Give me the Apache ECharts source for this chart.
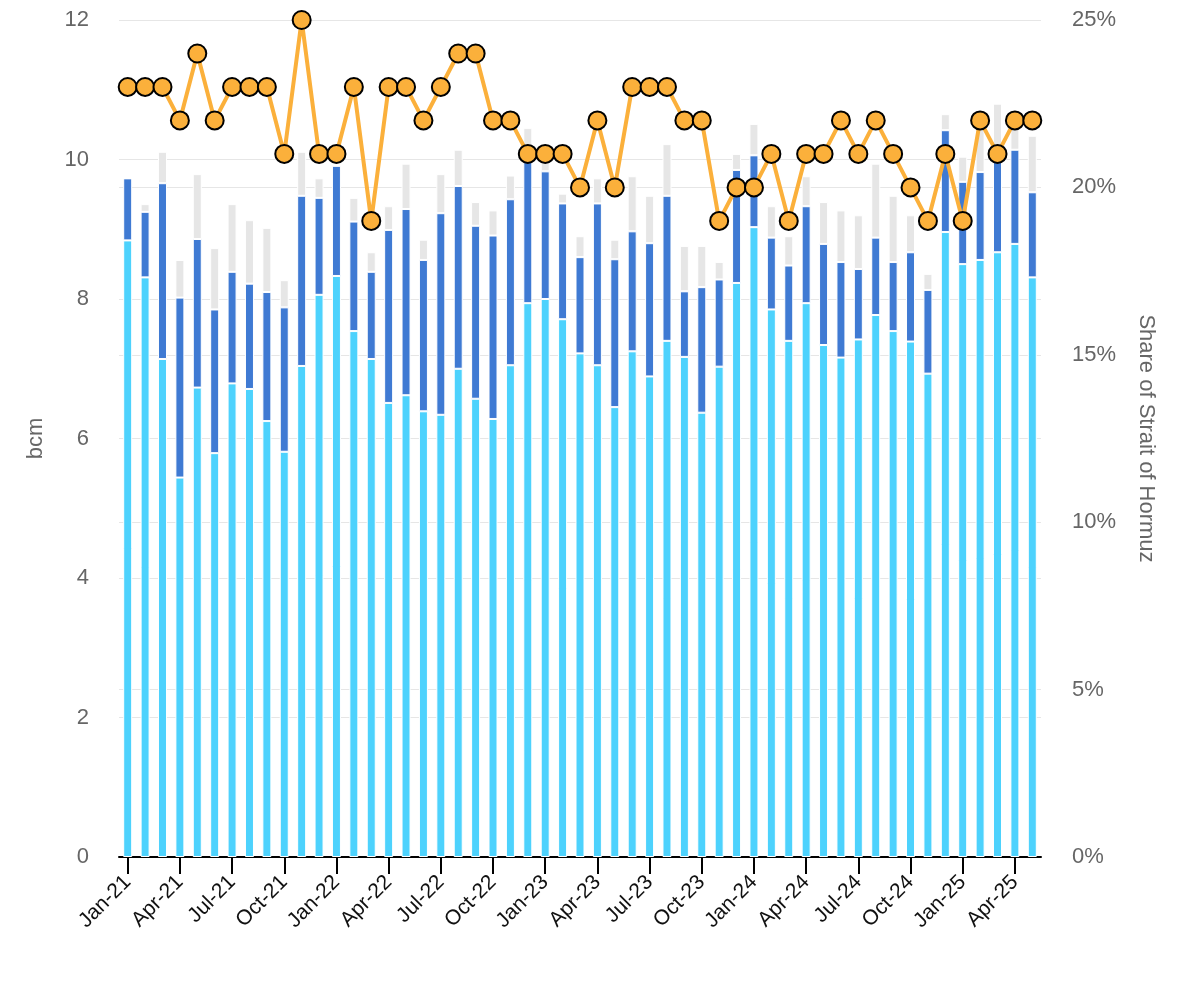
<!DOCTYPE html>
<html>
<head>
<meta charset="utf-8">
<script src="https://cdn.jsdelivr.net/npm/echarts@6/dist/echarts.min.js"></script>
<style>html,body{margin:0;padding:0;background:#fff}#c{width:1200px;height:1000px}</style>
</head>
<body>
<div id="c"></div>
<script>
const months = ["Jan-21","Feb-21","Mar-21","Apr-21","May-21","Jun-21","Jul-21","Aug-21","Sep-21","Oct-21","Nov-21","Dec-21",
"Jan-22","Feb-22","Mar-22","Apr-22","May-22","Jun-22","Jul-22","Aug-22","Sep-22","Oct-22","Nov-22","Dec-22",
"Jan-23","Feb-23","Mar-23","Apr-23","May-23","Jun-23","Jul-23","Aug-23","Sep-23","Oct-23","Nov-23","Dec-23",
"Jan-24","Feb-24","Mar-24","Apr-24","May-24","Jun-24","Jul-24","Aug-24","Sep-24","Oct-24","Nov-24","Dec-24",
"Jan-25","Feb-25","Mar-25","Apr-25","May-25"];

const seriesA = [8.84,8.31,7.14,5.44,6.73,5.79,6.79,6.71,6.25,5.81,7.04,8.06,
8.33,7.54,7.14,6.51,6.62,6.39,6.34,7.00,6.57,6.28,7.05,7.94,
8.00,7.71,7.22,7.05,6.45,7.25,6.89,7.40,7.17,6.37,7.03,8.23,
9.03,7.85,7.40,7.94,7.34,7.16,7.42,7.77,7.54,7.39,6.93,8.96,
8.50,8.56,8.67,8.79,8.31];

const seriesB = [0.89,0.94,2.52,2.58,2.13,2.06,1.60,1.51,1.85,2.07,2.44,1.39,
1.58,1.57,1.25,2.48,2.67,2.17,2.89,2.62,2.48,2.63,2.38,2.21,
1.83,1.66,1.38,2.32,2.12,1.72,1.91,2.08,0.94,1.80,1.25,1.62,
1.03,1.03,1.08,1.39,1.45,1.37,1.01,1.11,0.99,1.28,1.20,1.46,
1.18,1.26,1.39,1.35,1.22];

const seriesC = [0,0.11,0.45,0.54,0.93,0.88,0.97,0.91,0.92,0.39,0.63,0.28,
0,0.34,0.28,0.34,0.65,0.29,0.56,0.52,0.34,0.36,0.34,0.30,
0.17,0.14,0.30,0.36,0.28,0.79,0.68,0.74,0.65,0.59,0.25,0.23,
0.45,0.45,0.42,0.43,0.60,0.74,0.77,1.06,0.95,0.53,0.23,0.23,
0.36,0.67,0.74,0.57,0.81];

const shareHormuz = [23,23,23,22,24,22,23,23,23,21,25,21,
21,23,19,23,23,22,23,24,24,22,22,21,
21,21,20,22,20,23,23,23,22,22,19,20,
20,21,19,21,21,22,21,22,21,20,19,21,
19,22,21,22,22];

const FONT = 'Liberation Sans, Arial, sans-serif';
const chart = echarts.init(document.getElementById('c'));
const barCommon = { type: 'bar', stack: 'total', barWidth: 9 };
chart.setOption({
  animation: false,
  grid: { left: 119, right: 159, top: 20, bottom: 143 },
  xAxis: {
    type: 'category', data: months,
    axisLine: { show: true, lineStyle: { color: '#000', width: 2 } },
    axisTick: { show: true, alignWithLabel: true, interval: 2, length: 17, lineStyle: { color: '#000', width: 2 } },
    axisLabel: { interval: 2, rotate: 45, fontSize: 21, color: '#111', fontFamily: FONT, margin: 22 }
  },
  yAxis: [{
    type: 'value', min: 0, max: 12, interval: 2,
    name: 'bcm', nameLocation: 'middle', nameGap: 72, nameRotate: 90,
    nameTextStyle: { fontSize: 22, color: '#666', fontFamily: FONT },
    axisLabel: { fontSize: 22, color: '#666', margin: 30, fontFamily: FONT },
    splitLine: { lineStyle: { color: '#e6e6e6', width: 1 } },
    axisLine: { show: false }, axisTick: { show: false }
  }, {
    type: 'value', min: 0, max: 25, interval: 5, position: 'right',
    name: 'Share of Strait of Hormuz', nameLocation: 'middle', nameGap: 94, nameRotate: -90,
    nameTextStyle: { fontSize: 22, color: '#666', fontFamily: FONT },
    axisLabel: { fontSize: 22, color: '#666', margin: 31, formatter: '{value}%', fontFamily: FONT },
    splitLine: { lineStyle: { color: '#e6e6e6', width: 1 } },
    axisLine: { show: false }, axisTick: { show: false }
  }],
  series: [
    Object.assign({}, barCommon, { name: 'Segment A', data: seriesA, itemStyle: { color: '#4dd2fd', borderColor: '#fff', borderWidth: 1 } }),
    Object.assign({}, barCommon, { name: 'Segment B', data: seriesB, itemStyle: { color: '#3f7ad3', borderColor: '#fff', borderWidth: 1 } }),
    Object.assign({}, barCommon, { name: 'Segment C', data: seriesC, itemStyle: { color: '#e6e6e6', borderColor: '#fff', borderWidth: 1 } }),
    {
      name: 'Share of Strait of Hormuz', type: 'line', yAxisIndex: 1, data: shareHormuz,
      symbol: 'circle', symbolSize: 18, z: 10, showAllSymbol: true,
      lineStyle: { color: '#fbb03b', width: 4 },
      itemStyle: { color: '#fbb03b', borderColor: '#000', borderWidth: 2 }
    }
  ]
});
</script>
</body>
</html>
